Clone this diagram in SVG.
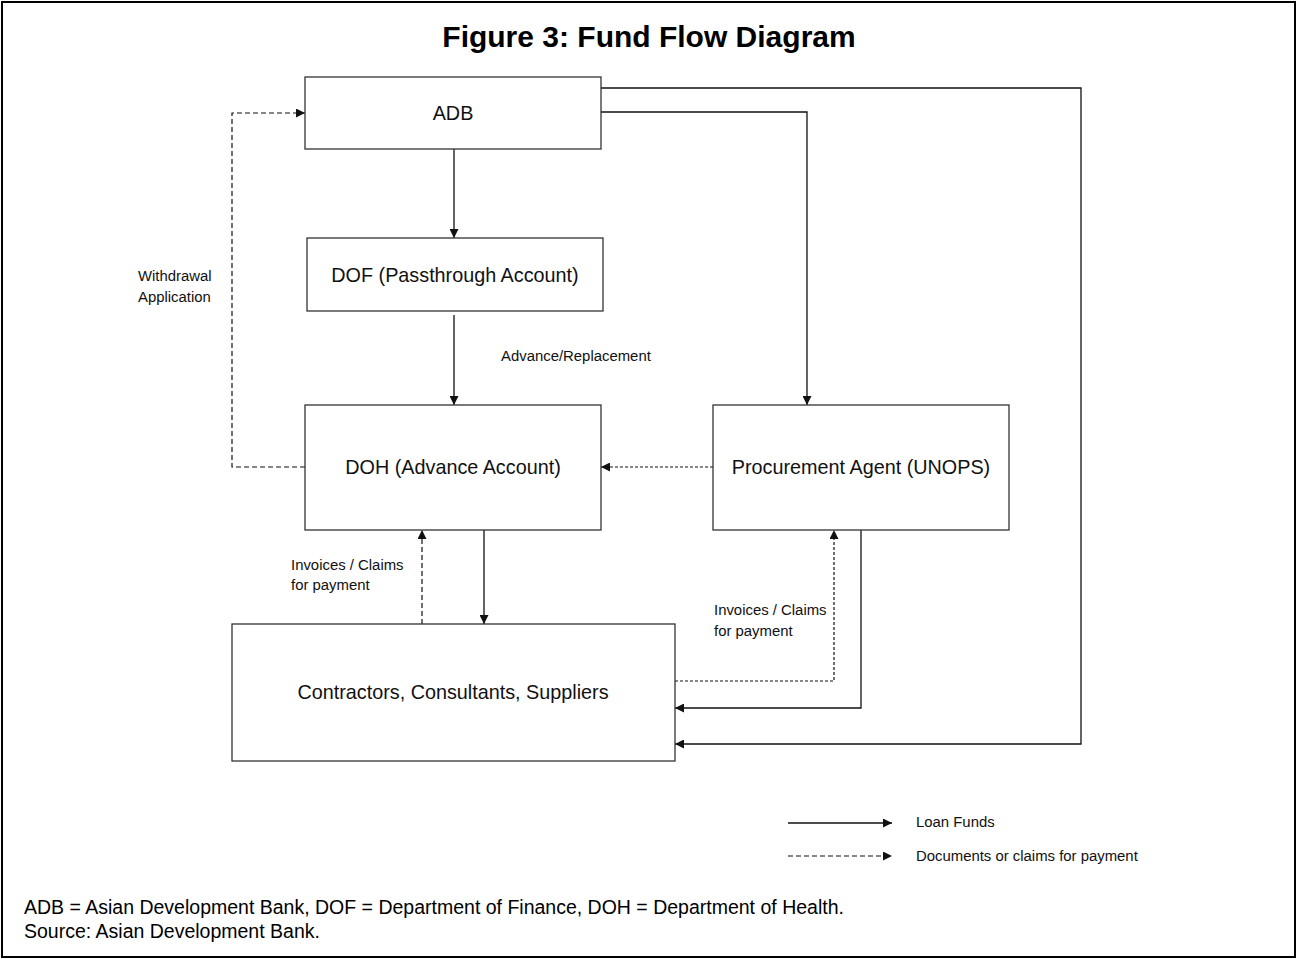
<svg xmlns="http://www.w3.org/2000/svg" width="1297" height="959" viewBox="0 0 1297 959">
<defs>
<style>
.box{fill:#fff;stroke:#333;stroke-width:1.3}
.nt{font-family:"Liberation Sans",Arial,sans-serif;font-size:19.8px;fill:#111;text-anchor:middle}
.lb{font-family:"Liberation Sans",Arial,sans-serif;font-size:14.9px;fill:#111}
.solid{fill:none;stroke:#111;stroke-width:1.3}
.dash{fill:none;stroke:#111;stroke-width:1.2;stroke-dasharray:5,3}
.dot{fill:none;stroke:#111;stroke-width:1.2;stroke-dasharray:3,2}
.ft{font-family:"Liberation Sans",Arial,sans-serif;font-size:19.5px;fill:#000}
</style>
<marker id="ah" viewBox="0 0 10 10" refX="10" refY="5" markerWidth="9" markerHeight="9" markerUnits="userSpaceOnUse" orient="auto">
<path d="M0,0 L10,5 L0,10 z" fill="#111"/>
</marker>
</defs>
<rect x="0" y="0" width="1297" height="959" fill="#fff"/>
<rect x="2" y="2" width="1293" height="955" fill="none" stroke="#000" stroke-width="2"/>
<text x="649" y="47" font-family="Liberation Sans,Arial,sans-serif" font-size="30" font-weight="bold" text-anchor="middle">Figure 3: Fund Flow Diagram</text>

<g id="connectors">
<path class="solid" d="M454,149 V238" marker-end="url(#ah)"/>
<path class="solid" d="M454,315 V405" marker-end="url(#ah)"/>
<path class="solid" d="M601,112 H807 V405" marker-end="url(#ah)"/>
<path class="solid" d="M601,88 H1081 V744 H675" marker-end="url(#ah)"/>
<path class="dash" d="M305,467 H232 V113 H305" marker-end="url(#ah)"/>
<path class="dot" d="M713,467 H601" marker-end="url(#ah)"/>
<path class="dash" d="M422,624 V530" marker-end="url(#ah)"/>
<path class="solid" d="M484,530 V624" marker-end="url(#ah)"/>
<path class="dot" d="M675,681 H834 V530" marker-end="url(#ah)"/>
<path class="solid" d="M861,530 V708 H675" marker-end="url(#ah)"/>
</g>

<g id="adb"><rect class="box" x="305" y="77" width="296" height="72"/><text class="nt" x="453" y="120">ADB</text></g>
<g id="dof"><rect class="box" x="307" y="238" width="296" height="73"/><text class="nt" x="455" y="282">DOF (Passthrough Account)</text></g>
<g id="doh"><rect class="box" x="305" y="405" width="296" height="125"/><text class="nt" x="453" y="474">DOH (Advance Account)</text></g>
<g id="unops"><rect class="box" x="713" y="405" width="296" height="125"/><text class="nt" x="861" y="474">Procurement Agent (UNOPS)</text></g>
<g id="contractors"><rect class="box" x="232" y="624" width="443" height="137"/><text class="nt" x="453" y="699">Contractors, Consultants, Suppliers</text></g>

<g id="labels">
<text class="lb" x="138" y="281">Withdrawal</text>
<text class="lb" x="138" y="302">Application</text>
<text class="lb" x="501" y="361">Advance/Replacement</text>
<text class="lb" x="291" y="570">Invoices / Claims</text>
<text class="lb" x="291" y="590">for payment</text>
<text class="lb" x="714" y="615">Invoices / Claims</text>
<text class="lb" x="714" y="636">for payment</text>
</g>

<g id="legend">
<path class="solid" d="M788,823 H892" marker-end="url(#ah)"/>
<text class="lb" x="916" y="827">Loan Funds</text>
<path class="dash" d="M788,856 H892" marker-end="url(#ah)"/>
<text class="lb" x="916" y="861">Documents or claims for payment</text>
</g>

<text class="ft" x="24" y="914">ADB = Asian Development Bank, DOF = Department of Finance, DOH = Department of Health.</text>
<text class="ft" x="24" y="938">Source: Asian Development Bank.</text>
</svg>
